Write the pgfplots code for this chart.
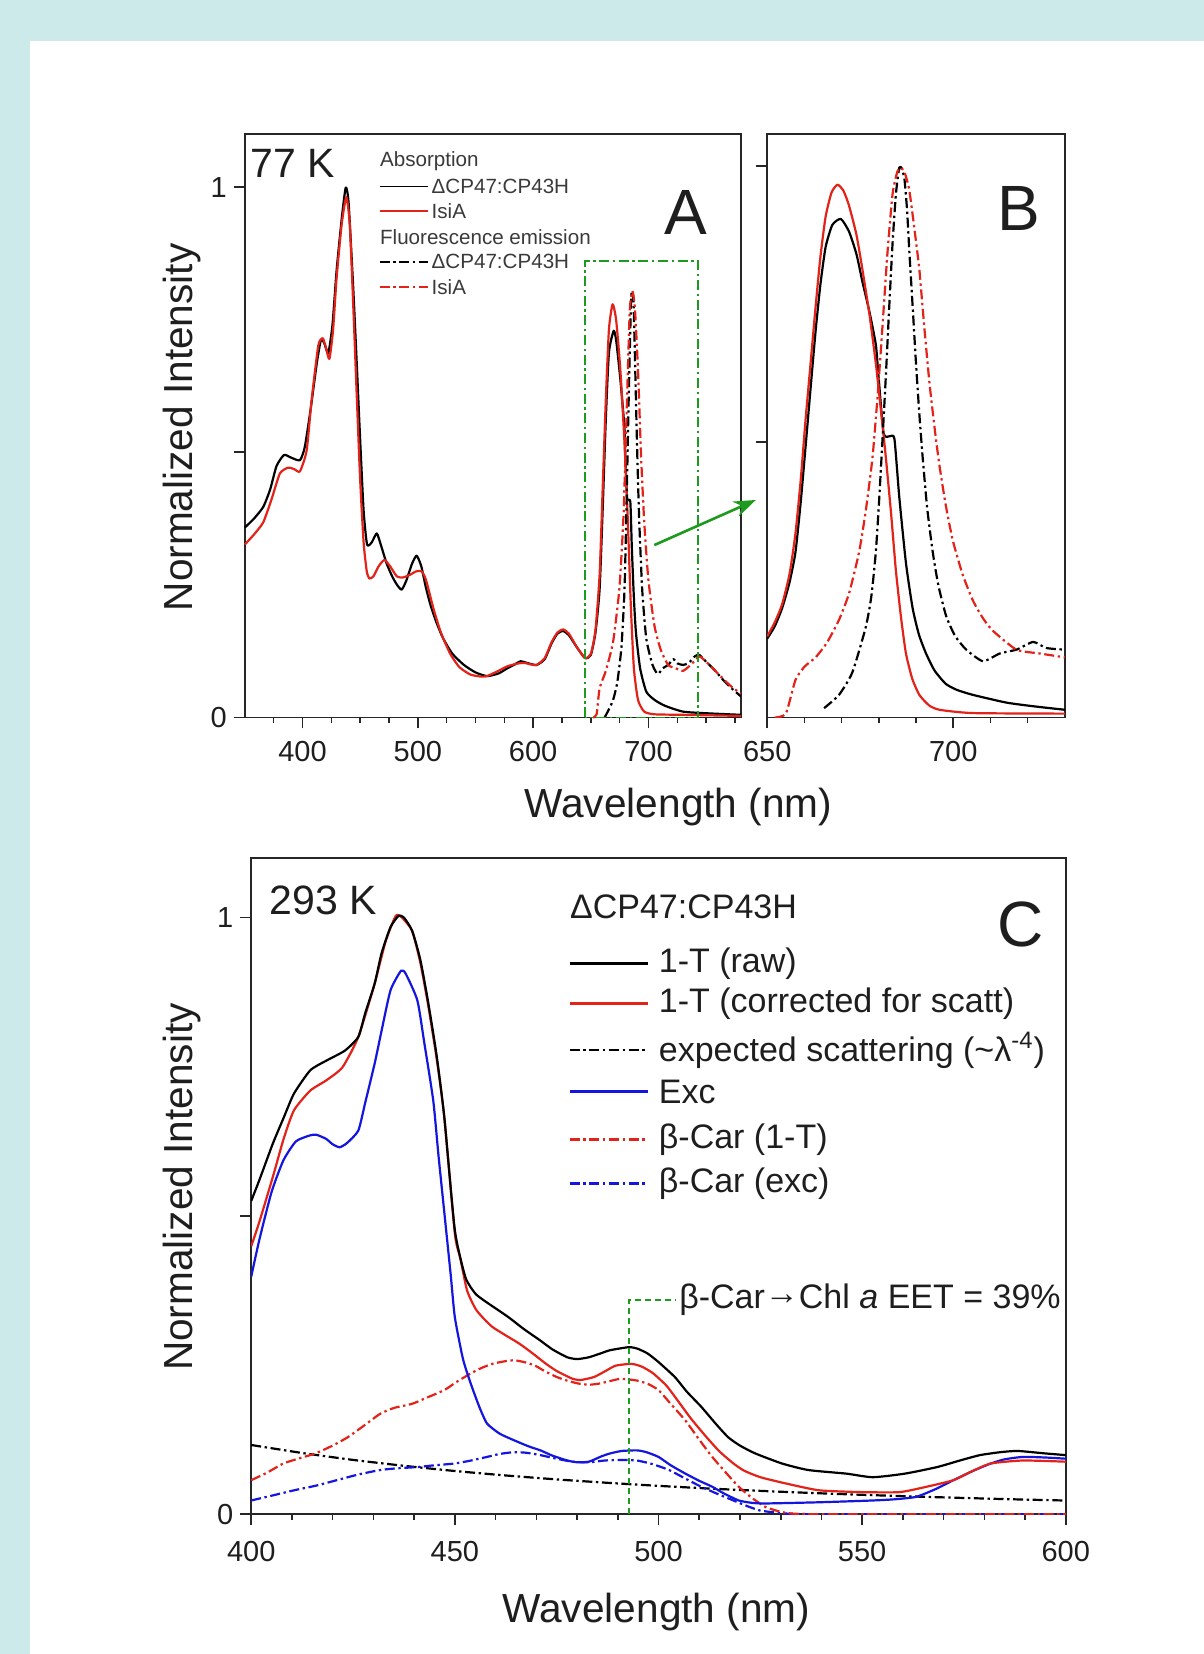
\documentclass[border=0pt]{standalone}
\usepackage{pgfplots}
\pgfplotsset{compat=1.18}
\usepackage{fontspec}
\setmainfont{Liberation Sans}
\usetikzlibrary{arrows.meta}
\definecolor{bgcyan}{HTML}{CDEAEA}
\definecolor{cred}{HTML}{E32219}
\definecolor{cblue}{HTML}{1515E0}
\definecolor{cgreen}{HTML}{1E9A1E}
\definecolor{txt}{HTML}{1E1E1E}
\definecolor{txtgray}{HTML}{3A3A3A}
\tikzset{dd/.style={dash pattern=on 5pt off 1.8pt on 1.2pt off 1.8pt}}
\pgfplotsset{
  myaxis/.style={
    scale only axis, anchor=south west,
    axis line style={line width=0.8pt, black!85},
    tick style={line width=0.8pt, black!85},
    tick align=outside, tick pos=left,
    major tick length=5.5pt, minor tick length=2.8pt,
    ticklabel style={font=\fontsize{14.5}{16}\selectfont, text=txt},
    xticklabel style={yshift=-3pt},
    /pgf/number format/assume math mode=true,
    every axis plot/.append style={line width=1.1pt, line join=round, smooth, tension=0.35},
  },
}
\begin{document}
\begin{tikzpicture}[x=1pt,y=1pt]
\useasboundingbox (0,0) rectangle (602,827);
\fill[bgcyan] (0,0) rectangle (602,827);
\fill[white] (15,0) rectangle (602,806.5);

% ---------------- Panel A ----------------
\begin{axis}[myaxis, at={(122.4pt,468.25pt)}, width=248pt, height=291.75pt,
  xmin=350, xmax=780, ymin=0, ymax=1.1,
  xtick={400,500,600,700},
  minor xtick={375,425,450,475,525,550,575,625,650,675,725,750,775},
  ytick={0,0.5,1}, yticklabels={0,,1}, clip=false]
% black absorption
\addplot[black] coordinates {(350,0.358)(358,0.375)(366,0.397)(372,0.43)(377.5,0.474)(384,0.495)(390,0.49)(397.8,0.485)(402,0.51)(407,0.58)(412.3,0.666)(416,0.712)(419,0.705)(422.4,0.687)(426,0.74)(429.6,0.843)(434,0.94)(437.5,0.999)(440,0.97)(444,0.81)(447,0.67)(450,0.524)(453,0.39)(456,0.326)(460,0.33)(464.4,0.347)(468,0.325)(473,0.29)(478,0.265)(482,0.25)(486,0.241)(490,0.258)(495,0.29)(499,0.305)(503,0.285)(507,0.245)(511,0.212)(516,0.18)(522,0.149)(530,0.12)(540,0.099)(550,0.085)(560,0.078)(570,0.083)(577,0.092)(584,0.1)(589,0.106)(596,0.102)(603,0.099)(610,0.11)(616,0.14)(621,0.158)(626,0.163)(631,0.155)(638,0.132)(645,0.112)(650,0.118)(654,0.16)(657.6,0.242)(660.3,0.395)(663,0.564)(665.7,0.688)(669.8,0.729)(672,0.71)(675.6,0.637)(679.2,0.545)(679.7,0.5)(681.5,0.413)(684.2,0.407)(685.5,0.322)(687.3,0.226)(689.1,0.16)(692.7,0.093)(698,0.049)(705.3,0.033)(714.3,0.022)(730,0.011)(750,0.008)(780,0.005)};
% red absorption
\addplot[cred] coordinates {(350,0.326)(358,0.345)(366,0.368)(373,0.41)(380.4,0.46)(387.6,0.471)(393,0.468)(397.8,0.464)(403.6,0.503)(408,0.6)(413.7,0.701)(417.5,0.715)(420,0.70)(423.3,0.676)(426.5,0.73)(429.6,0.829)(434,0.93)(438,0.981)(441,0.93)(444.1,0.772)(447,0.61)(449.9,0.453)(453,0.33)(455.7,0.276)(458,0.262)(461.5,0.266)(466,0.285)(471,0.297)(476,0.285)(481.8,0.266)(487,0.264)(493.3,0.269)(498,0.275)(503,0.276)(507,0.26)(513.6,0.205)(520,0.16)(528.1,0.12)(536,0.095)(545.5,0.081)(555,0.077)(560,0.078)(570,0.088)(577,0.096)(585,0.101)(592,0.103)(598,0.1)(603,0.099)(610,0.112)(616,0.142)(621,0.16)(626,0.166)(631,0.158)(638,0.132)(645,0.112)(650,0.12)(654,0.165)(657.6,0.269)(660.3,0.434)(663,0.6)(665.7,0.732)(668.9,0.779)(672,0.748)(675.6,0.654)(679.2,0.517)(681.9,0.38)(684.6,0.214)(687.3,0.093)(690.9,0.033)(696.3,0.011)(705.3,0.006)(730,0.005)(780,0.003)};
% black fluorescence
\addplot[black, dd] coordinates {(662,0.0)(665.3,0.014)(669.3,0.033)(672.9,0.066)(676.5,0.132)(679.2,0.242)(681,0.407)(682.8,0.6)(684.6,0.765)(685.5,0.804)(686.9,0.787)(688.2,0.682)(690,0.517)(691.8,0.38)(694.5,0.242)(698.1,0.148)(703.5,0.099)(708,0.082)(712.5,0.093)(717,0.099)(721.5,0.11)(725,0.102)(730,0.099)(735,0.103)(740,0.115)(744,0.118)(750,0.105)(757,0.09)(765,0.07)(772,0.055)(780,0.04)};
% red fluorescence
\addplot[cred, dd] coordinates {(652,0.0)(655,0.006)(657.6,0.055)(663,0.088)(669.3,0.143)(674.7,0.242)(678.3,0.38)(681,0.572)(683.7,0.765)(686,0.804)(688.2,0.771)(690.9,0.654)(693.6,0.49)(696.3,0.368)(699.9,0.259)(705.3,0.171)(710.7,0.127)(717,0.099)(723.3,0.093)(730,0.088)(737,0.1)(744,0.115)(750,0.105)(757,0.09)(765,0.072)(772,0.058)(780,0.045)};
% zoom box and arrow
\draw[cgreen, dd, line width=0.9pt] (axis cs:645,0) rectangle (axis cs:743,0.86);
\draw[cgreen, line width=1.3pt, -{Stealth[length=11pt,width=8pt]}] (axis cs:705,0.325) -- (axis cs:793,0.41);
% texts
\node[anchor=west, inner sep=0, font=\fontsize{20.5}{24}\selectfont, text=txt] at (axis description cs:0.011,0.949) {77 K};
\node[font=\fontsize{32}{36}\selectfont, text=txt] at (axis description cs:0.889,0.866) {A};
% legend A
\begin{scope}[font=\fontsize{10.3}{12}\selectfont, text=txtgray]
\node[anchor=west, inner sep=0] at (axis description cs:0.272,0.953) {Absorption};
\draw[black, line width=0.9pt] (axis description cs:0.272,0.910) -- (axis description cs:0.370,0.910);
\node[anchor=west, inner sep=0] at (axis description cs:0.376,0.910) {ΔCP47:CP43H};
\draw[cred, line width=0.9pt] (axis description cs:0.272,0.868) -- (axis description cs:0.370,0.868);
\node[anchor=west, inner sep=0] at (axis description cs:0.376,0.868) {IsiA};
\node[anchor=west, inner sep=0] at (axis description cs:0.272,0.823) {Fluorescence emission};
\draw[black, dd, line width=0.9pt] (axis description cs:0.272,0.781) -- (axis description cs:0.370,0.781);
\node[anchor=west, inner sep=0] at (axis description cs:0.376,0.781) {ΔCP47:CP43H};
\draw[cred, dd, line width=0.9pt] (axis description cs:0.272,0.738) -- (axis description cs:0.370,0.738);
\node[anchor=west, inner sep=0] at (axis description cs:0.376,0.738) {IsiA};
\end{scope}
\end{axis}

% ---------------- Panel B ----------------
\begin{axis}[myaxis, at={(383.6pt,468.25pt)}, width=148.8pt, height=291.75pt,
  xmin=650, xmax=730, ymin=0, ymax=1.058,
  xtick={650,700}, minor xtick={660,670,680,690,710,720},
  ytick={0.5,1}, yticklabels={,}]
\addplot[black] coordinates {(650,0.143)(652,0.165)(654,0.198)(656,0.245)(657.6,0.30)(659,0.39)(660.3,0.49)(661.7,0.60)(663,0.70)(664.3,0.785)(665.7,0.853)(667.5,0.893)(669.8,0.904)(672,0.881)(674,0.84)(675.6,0.79)(677.5,0.735)(679.2,0.676)(679.9,0.621)(681.3,0.515)(683,0.51)(684.2,0.505)(685.5,0.40)(687.3,0.28)(689.1,0.198)(690.8,0.15)(692.7,0.116)(695,0.085)(698,0.061)(701,0.05)(705.3,0.041)(714.3,0.027)(722,0.02)(730,0.014)};
\addplot[cred] coordinates {(650,0.147)(652,0.172)(654,0.205)(656,0.26)(657.6,0.334)(659,0.43)(660.3,0.539)(661.7,0.645)(663,0.744)(664.3,0.835)(665.7,0.908)(667.3,0.952)(668.9,0.966)(670.5,0.955)(672,0.928)(674,0.875)(675.6,0.812)(677.5,0.73)(679.2,0.642)(680.6,0.555)(681.9,0.471)(683.3,0.37)(684.6,0.266)(686,0.18)(687.3,0.116)(689,0.07)(690.9,0.041)(693.5,0.022)(696.3,0.014)(705.3,0.008)(730,0.007)};
\addplot[black, dd] coordinates {(665.3,0.017)(669.3,0.041)(672.9,0.082)(676.5,0.164)(678,0.22)(679.2,0.30)(680.1,0.395)(681,0.505)(681.9,0.62)(682.8,0.744)(683.7,0.86)(684.6,0.949)(685.5,0.997)(686.2,0.995)(686.9,0.976)(687.6,0.92)(688.2,0.846)(689.1,0.745)(690,0.642)(690.9,0.55)(691.8,0.471)(693,0.38)(694.5,0.30)(696,0.24)(698.1,0.184)(700.5,0.148)(703.5,0.123)(708,0.102)(712.5,0.116)(717,0.123)(721.5,0.137)(725,0.126)(730,0.123)};
\addplot[cred, dd] coordinates {(652,0.0)(655,0.007)(657.6,0.068)(660,0.092)(663,0.109)(666,0.135)(669.3,0.177)(672,0.225)(674.7,0.30)(676.5,0.375)(678.3,0.471)(679.7,0.585)(681,0.71)(682.3,0.84)(683.7,0.949)(685,0.99)(686,0.997)(687.1,0.985)(688.2,0.956)(689.5,0.89)(690.9,0.812)(692.2,0.71)(693.6,0.608)(695,0.525)(696.3,0.457)(698,0.385)(699.9,0.321)(702.5,0.26)(705.3,0.212)(708,0.18)(710.7,0.157)(717,0.123)(723.3,0.116)(730,0.109)};
\node[font=\fontsize{32}{36}\selectfont, text=txt] at (axis description cs:0.844,0.872) {B};
\end{axis}

% ---------------- Panel C ----------------
\begin{axis}[myaxis, at={(125.6pt,69.9pt)}, width=407.3pt, height=328.15pt,
  xmin=400, xmax=600, ymin=0, ymax=1.1,
  xtick={400,450,500,550,600}, minor x tick num=4,
  xticklabel style={yshift=-1.5pt},
  ytick={0,0.5,1}, yticklabels={0,,1}]
% scattering
\addplot[black, dd] coordinates {(400,0.116)(412.5,0.1026)(425,0.091)(437.5,0.0811)(450,0.0724)(462.5,0.0649)(475,0.0583)(487.5,0.0526)(500,0.0475)(512.5,0.043)(525,0.0391)(537.5,0.0356)(550,0.0325)(562.5,0.0297)(575,0.0272)(587.5,0.0249)(600,0.0229)};
% beta-car exc
\addplot[cblue, dd] coordinates {(400,0.023)(405,0.031)(410.5,0.04)(416,0.048)(421,0.057)(426,0.066)(431.6,0.074)(436,0.077)(440.8,0.079)(445,0.082)(450,0.085)(454,0.09)(457.9,0.096)(461,0.101)(464.5,0.104)(467.5,0.103)(471,0.099)(475,0.093)(478.9,0.088)(483,0.087)(486.8,0.09)(491,0.091)(494.7,0.09)(498.5,0.084)(502.6,0.074)(506.5,0.06)(510.5,0.046)(514.5,0.034)(518.4,0.023)(522,0.013)(525,0.006)(528.5,0.003)(531.6,0.001)(540,0.0)(600,0.0)};
% beta-car 1-T
\addplot[cred, dd] coordinates {(400,0.057)(404,0.07)(407.9,0.085)(412,0.094)(415.8,0.102)(420,0.115)(423.7,0.129)(428,0.15)(431.6,0.168)(435,0.178)(439.5,0.185)(443,0.195)(447.4,0.208)(450.5,0.222)(453.9,0.236)(456.5,0.245)(459.2,0.252)(462,0.256)(464.5,0.258)(467,0.255)(469.7,0.249)(472,0.24)(475,0.23)(477.5,0.224)(480.3,0.219)(483,0.217)(485.5,0.219)(488,0.223)(490.8,0.227)(494.7,0.224)(497.5,0.218)(500,0.208)(503,0.185)(506.6,0.157)(510,0.125)(513.2,0.096)(516.5,0.07)(519.7,0.046)(523,0.027)(526.3,0.012)(530,0.004)(533,0.001)(540,0.0)(600,0.0)};
% Exc
\addplot[cblue] coordinates {(400,0.398)(402,0.46)(405,0.54)(407.9,0.593)(411,0.625)(414.5,0.635)(416,0.636)(418.4,0.629)(420,0.62)(421.7,0.615)(423.5,0.622)(426.3,0.643)(428,0.69)(430.3,0.755)(432,0.81)(434.2,0.878)(436.8,0.911)(438,0.905)(440.8,0.861)(442.5,0.79)(444.7,0.693)(446,0.6)(447.5,0.5)(449,0.40)(450,0.33)(452,0.26)(453.9,0.219)(456,0.18)(457.9,0.152)(461,0.135)(464.5,0.124)(468,0.114)(471,0.107)(474,0.098)(477.6,0.09)(480,0.087)(482.9,0.088)(486,0.097)(488.2,0.102)(491,0.106)(494.7,0.107)(497,0.104)(500,0.096)(503,0.082)(506.6,0.068)(510,0.056)(513.2,0.046)(516,0.035)(519.7,0.023)(523,0.019)(526.3,0.018)(539.5,0.02)(552.6,0.023)(558,0.025)(563.2,0.029)(568,0.042)(572.4,0.057)(577,0.072)(581.6,0.085)(585,0.092)(589.5,0.096)(595,0.095)(600,0.093)};
% corrected
\addplot[cred] coordinates {(400,0.449)(402,0.49)(405.3,0.565)(408,0.63)(410.5,0.677)(414.5,0.71)(418.4,0.727)(422.4,0.749)(426.3,0.8)(430.3,0.889)(433,0.96)(435.5,1.003)(437,1.0)(439.5,0.978)(441.5,0.925)(443.4,0.855)(445.5,0.765)(447.4,0.666)(450,0.47)(451.3,0.43)(453,0.375)(455.3,0.342)(459.2,0.314)(465.8,0.286)(469,0.27)(472.4,0.252)(475,0.24)(478.9,0.227)(481,0.225)(484.2,0.23)(487,0.24)(489.5,0.249)(493.4,0.252)(496,0.247)(498.7,0.236)(502,0.215)(505.3,0.185)(508,0.16)(511.8,0.129)(515,0.105)(518.4,0.085)(521,0.073)(525,0.062)(531.6,0.051)(539.5,0.04)(550,0.037)(559.2,0.037)(565.8,0.046)(572.4,0.057)(577,0.072)(581.6,0.085)(589.5,0.09)(600,0.088)};
% raw
\addplot[black] coordinates {(400,0.525)(402,0.56)(405.3,0.621)(408,0.665)(410.5,0.705)(414.5,0.744)(418.4,0.76)(423,0.777)(426.3,0.8)(428,0.84)(430.3,0.889)(432,0.94)(434.2,0.984)(436.2,1.003)(437.5,1.0)(439.5,0.978)(441.5,0.93)(443.4,0.86)(445.5,0.77)(447.4,0.666)(450,0.476)(452.6,0.397)(455,0.37)(457.2,0.358)(460,0.345)(463.2,0.33)(467,0.31)(471,0.291)(474,0.276)(477.6,0.263)(480,0.26)(482.9,0.263)(486,0.27)(488.2,0.275)(492.8,0.28)(495,0.277)(497.4,0.269)(500,0.255)(504,0.23)(507,0.205)(510.5,0.18)(514,0.152)(517.1,0.129)(520,0.115)(523.7,0.102)(530.3,0.085)(536.8,0.074)(546.1,0.068)(552.6,0.062)(560.5,0.068)(568.4,0.079)(574,0.09)(578.9,0.099)(584,0.104)(588.2,0.106)(594.7,0.102)(600,0.099)};
% EET annotation
\draw[cgreen, dash pattern=on 3pt off 2pt, line width=0.9pt] (axis cs:492.8,0) -- (axis cs:492.8,0.359) -- (axis cs:504.3,0.359);
\node[anchor=west, inner sep=0, font=\fontsize{17}{20}\selectfont, text=txt] at (axis cs:505,0.359) {β-Car\raisebox{0.25ex}{→}Chl \textit{a} EET = 39\%};
\node[anchor=west, inner sep=0, font=\fontsize{20.5}{24}\selectfont, text=txt] at (axis description cs:0.022,0.936) {293 K};
\node[font=\fontsize{32}{36}\selectfont, text=txt] at (axis description cs:0.944,0.899) {C};
% legend C
\begin{scope}[font=\fontsize{17}{20}\selectfont, text=txt]
\node[anchor=west, inner sep=0] at (axis description cs:0.391,0.926) {ΔCP47:CP43H};
\draw[black, line width=1.1pt] (axis description cs:0.391,0.839) -- (axis description cs:0.487,0.839);
\node[anchor=west, inner sep=0] at (axis description cs:0.5,0.839) {1-T (raw)};
\draw[cred, line width=1.1pt] (axis description cs:0.391,0.778) -- (axis description cs:0.487,0.778);
\node[anchor=west, inner sep=0] at (axis description cs:0.5,0.778) {1-T (corrected for scatt)};
\draw[black, dd, line width=1.1pt] (axis description cs:0.391,0.707) -- (axis description cs:0.487,0.707);
\node[anchor=west, inner sep=0] at (axis description cs:0.5,0.707) {expected scattering (\textasciitilde λ\textsuperscript{-4})};
\draw[cblue, line width=1.1pt] (axis description cs:0.391,0.644) -- (axis description cs:0.487,0.644);
\node[anchor=west, inner sep=0] at (axis description cs:0.5,0.644) {Exc};
\draw[cred, dd, line width=1.1pt] (axis description cs:0.391,0.571) -- (axis description cs:0.487,0.571);
\node[anchor=west, inner sep=0] at (axis description cs:0.5,0.571) {β-Car (1-T)};
\draw[cblue, dd, line width=1.1pt] (axis description cs:0.391,0.504) -- (axis description cs:0.487,0.504);
\node[anchor=west, inner sep=0] at (axis description cs:0.5,0.504) {β-Car (exc)};
\end{scope}
\end{axis}

% axis titles
\begin{scope}[font=\fontsize{20.3}{24}\selectfont, text=txt]
\node[rotate=90] at (90.8,613.3) {Normalized Intensity};
\node[rotate=90] at (90.8,233.5) {Normalized Intensity};
\node at (339.2,423.4) {Wavelength (nm)};
\node at (328.2,20.85) {Wavelength (nm)};
\end{scope}
\end{tikzpicture}
\end{document}
